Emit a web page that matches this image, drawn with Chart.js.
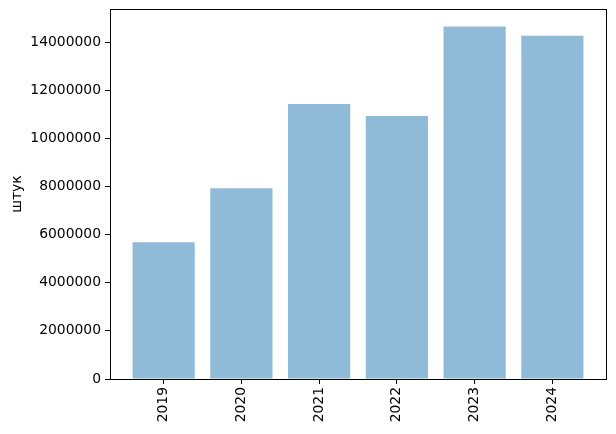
<!DOCTYPE html>
<html>
<head>
<meta charset="utf-8">
<script src="https://cdn.jsdelivr.net/npm/chart.js@4"></script>
<style>
  html, body { margin: 0; padding: 0; background: #fff; }
  #wrap { width: 616px; height: 434px; }
</style>
</head>
<body>
<div id="wrap"><canvas id="chart" width="616" height="434"></canvas></div>
<script>
// Data
const years = ['2019', '2020', '2021', '2022', '2023', '2024'];
const counts = [5680000, 7930000, 11430000, 10930000, 14640000, 14260000];
const yTicks = [0, 2000000, 4000000, 6000000, 8000000, 10000000, 12000000, 14000000];

const font = { family: 'DejaVu Sans', size: 13.9 };

// draw the full box around the plot, like matplotlib's spines
const frame = {
    id: 'frame',
    afterDraw(chart) {
        const a = chart.chartArea;
        const c = chart.ctx;
        c.save();
        c.strokeStyle = '#000';
        c.lineWidth = 1;
        c.strokeRect(Math.round(a.left) + 0.5, Math.round(a.top) + 0.5,
            Math.round(a.right - a.left), Math.round(a.bottom - a.top));
        c.restore();
    }
};

new Chart(document.getElementById('chart'), {
    type: 'bar',
    data: {
        datasets: [{
            data: counts.map((v, i) => ({ x: i, y: v })),
            backgroundColor: 'rgba(31, 119, 180, 0.5)',
            borderWidth: 0,
            barPercentage: 0.8,
            categoryPercentage: 1
        }]
    },
    options: {
        responsive: false,
        animation: false,
        layout: { padding: { top: 9, right: 10, left: 0, bottom: 0 } },
        plugins: { legend: { display: false }, tooltip: { enabled: false } },
        scales: {
            x: {
                type: 'linear',
                offset: false,
                min: -0.69,
                max: 5.69,
                afterBuildTicks: s => { s.ticks = years.map((y, i) => ({ value: i })); },
                afterFit: s => { s.height = 55; s.paddingLeft = 0; s.paddingRight = 0; },
                ticks: {
                    callback: v => years[v],
                    color: '#000',
                    font: font,
                    minRotation: 90,
                    maxRotation: 90,
                    padding: 3
                },
                grid: { offset: false, drawOnChartArea: false, drawTicks: true, tickLength: 5, color: '#000' },
                border: { display: false }
            },
            y: {
                min: 0,
                max: 15372000,
                afterBuildTicks: s => { s.ticks = yTicks.map(v => ({ value: v })); },
                afterFit: s => { s.width = 110; s.paddingTop = 0; s.paddingBottom = 0; },
                ticks: {
                    callback: v => String(v),
                    color: '#000',
                    font: font,
                    padding: 4
                },
                grid: { drawOnChartArea: false, drawTicks: true, tickLength: 5, color: '#000' },
                border: { display: false },
                title: {
                    display: true,
                    text: 'штук',
                    color: '#000',
                    font: font,
                    padding: { top: 9, bottom: 4 }
                }
            }
        }
    },
    plugins: [frame]
});
</script>
</body>
</html>
